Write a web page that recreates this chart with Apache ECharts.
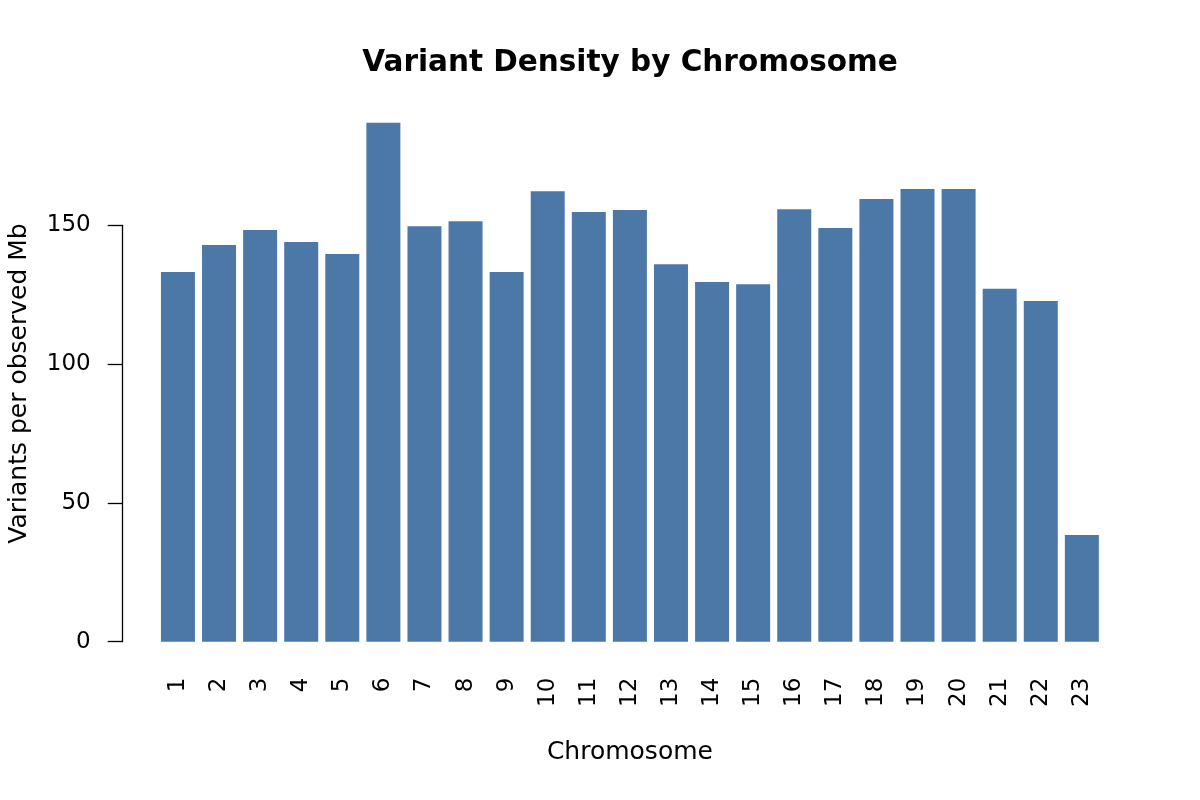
<!DOCTYPE html>
<html>
<head>
<meta charset="utf-8">
<script src="https://cdn.jsdelivr.net/npm/echarts@6/dist/echarts.min.js"></script>
<style>html,body{margin:0;padding:0;background:#fff}#c{width:1200px;height:800px}</style>
</head>
<body>
<div id="c"></div>
<script>
const chromosomes = ["1","2","3","4","5","6","7","8","9","10","11","12","13","14","15","16","17","18","19","20","21","22","23"];
const density = [133.2, 142.9, 148.3, 144.0, 139.7, 186.9, 149.7, 151.5, 133.2, 162.3, 154.8, 155.5, 136.0, 129.6, 128.8, 155.8, 149.0, 159.5, 163.1, 163.1, 127.1, 122.7, 38.4];
const yTicks = [0, 50, 100, 150];

const FONT = 'DejaVu Sans';
const chart = echarts.init(document.getElementById('c'), null, {renderer: 'canvas'});
chart.setOption({
  animation: false,
  backgroundColor: '#ffffff',
  textStyle: {fontFamily: FONT, color: '#000'},
  title: {
    text: 'Variant Density by Chromosome',
    left: 630, top: 48, textAlign: 'center', padding: 0,
    textStyle: {fontFamily: FONT, fontWeight: 'bold', fontSize: 29.5, color: '#000'}
  },
  grid: {left: 157.4, width: 945, top: 225.3, bottom: 158.3, containLabel: false, outerBoundsMode: 'none'},
  xAxis: {
    type: 'category',
    data: chromosomes,
    axisLine: {show: false},
    axisTick: {show: false},
    axisLabel: {rotate: 90, margin: 36, fontSize: 23, color: '#000', fontFamily: FONT, interval: 0},
    name: 'Chromosome',
    nameLocation: 'middle',
    nameGap: 98,
    nameTextStyle: {fontSize: 25, color: '#000', fontFamily: FONT}
  },
  yAxis: {
    type: 'value',
    min: yTicks[0], max: yTicks[yTicks.length - 1], interval: 50,
    offset: 34.7,
    splitLine: {show: false},
    axisLine: {show: true, lineStyle: {color: '#000', width: 1.3}},
    axisTick: {show: true, inside: false, length: 15, lineStyle: {color: '#000', width: 1.3}},
    axisLabel: {margin: 32, fontSize: 23, color: '#000', fontFamily: FONT},
    name: 'Variants per observed Mb',
    nameLocation: 'middle',
    nameGap: 91,
    nameTextStyle: {fontSize: 25, color: '#000', fontFamily: FONT, padding: [0, 0, 0, 100]}
  },
  series: [{
    type: 'bar',
    data: density,
    barWidth: 34,
    clip: false,
    itemStyle: {color: '#4C78A8'}
  }]
});
</script>
</body>
</html>
